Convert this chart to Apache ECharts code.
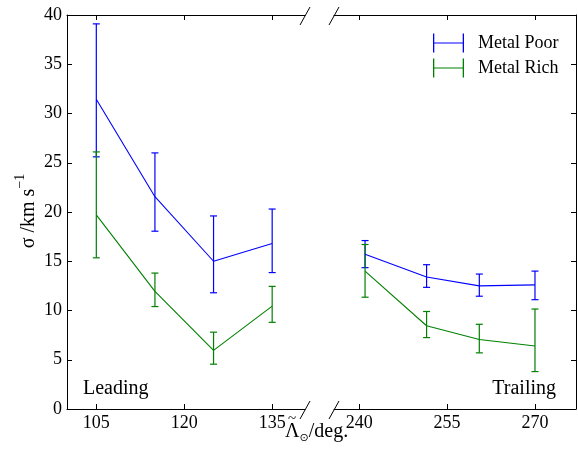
<!DOCTYPE html>
<html>
<head>
<meta charset="utf-8">
<script src="https://cdn.jsdelivr.net/npm/echarts@6/dist/echarts.min.js"></script>
<style>
  html, body { margin: 0; padding: 0; background: #fff; }
  #chart { width: 578px; height: 455px; }
</style>
</head>
<body>
<div id="chart"></div>
<script>
// Velocity dispersion along the stream, leading and trailing arms
const xLeading = [105, 115, 125, 135];
const poorLeading = [31.45, 21.55, 15.0, 16.8];
const poorLeadingLow = [25.6, 18.05, 11.8, 13.85];
const poorLeadingHigh = [39.1, 26.0, 19.6, 20.3];
const richLeading = [19.7, 11.95, 5.95, 10.45];
const richLeadingLow = [15.35, 10.4, 4.55, 8.8];
const richLeadingHigh = [26.1, 13.8, 7.8, 12.45];

const xTrailing = [241, 251.5, 260.5, 270];
const poorTrailing = [15.7, 13.4, 12.5, 12.6];
const poorTrailingLow = [14.35, 12.35, 11.45, 11.1];
const poorTrailingHigh = [17.1, 14.65, 13.7, 14.0];
const richTrailing = [14.0, 8.45, 7.05, 6.4];
const richTrailingLow = [11.35, 7.25, 5.7, 3.8];
const richTrailingHigh = [16.7, 9.9, 8.6, 10.15];

const xTicksLeading = [105, 120, 135];
const xTicksTrailing = [240, 255, 270];
const yMin = 0, yMax = 40, yStep = 5;

const BLUE = '#0000ff';
const GREEN = '#008000';
const FONT = '"Liberation Serif", "Times New Roman", serif';

const zip = (xs, ys) => xs.map((x, i) => [x, ys[i]]);
const zip3 = (xs, lo, hi) => xs.map((x, i) => [x, lo[i], hi[i]]);

// panel 0 = leading arm (x axes 0/1), panel 1 = trailing arm (x axes 2/3)
function errorBars(name, color, panel, data) {
  return {
    name, type: 'custom', xAxisIndex: panel * 2, yAxisIndex: panel,
    data, encode: { x: 0, y: [1, 2] }, z: 3,
    itemStyle: { color },
    renderItem(params, api) {
      const x = api.value(0);
      const lo = api.coord([x, api.value(1)]);
      const hi = api.coord([x, api.value(2)]);
      const hw = 3.5;
      const st = { stroke: color, lineWidth: 1.2 };
      return {
        type: 'group',
        children: [
          { type: 'line', shape: { x1: lo[0], y1: lo[1], x2: hi[0], y2: hi[1] }, style: st },
          { type: 'line', shape: { x1: hi[0] - hw, y1: hi[1], x2: hi[0] + hw, y2: hi[1] }, style: st },
          { type: 'line', shape: { x1: lo[0] - hw, y1: lo[1], x2: lo[0] + hw, y2: lo[1] }, style: st }
        ]
      };
    }
  };
}

function lineSeries(name, color, panel, data) {
  return {
    name, type: 'line', xAxisIndex: panel * 2, yAxisIndex: panel, data,
    showSymbol: false, symbol: 'none', z: 4,
    itemStyle: { color }, lineStyle: { color, width: 1.1 }
  };
}

const axisLine = { show: true, lineStyle: { color: '#000', width: 1 } };
const tickBase = { show: true, inside: true, length: 5, lineStyle: { color: '#000', width: 1 } };

function xAxisPair(grid, min, max, ticks) {
  return [
    {
      type: 'value', gridIndex: grid, position: 'bottom', min, max,
      axisLine, splitLine: { show: false },
      axisTick: Object.assign({ customValues: ticks }, tickBase),
      axisLabel: { customValues: ticks, color: '#000', fontFamily: FONT, fontSize: 18, margin: 5 }
    },
    {
      type: 'value', gridIndex: grid, position: 'top', min, max,
      axisLine, splitLine: { show: false },
      axisTick: Object.assign({ customValues: ticks }, tickBase),
      axisLabel: { show: false }
    }
  ];
}

const legendIcon = 'path://M0,0h1.3v19h-1.3z M0,8.9h31v1.2h-31z M29.7,0h1.3v19h-1.3z';

const option = {
  animation: false,
  backgroundColor: '#fff',
  grid: [
    { left: 67, top: 15, width: 238, height: 394 },
    { left: 334, top: 15, width: 242, height: 394 }
  ],
  xAxis: [
    ...xAxisPair(0, 100, 140.6, xTicksLeading),
    ...xAxisPair(1, 235.7, 277, xTicksTrailing)
  ],
  yAxis: [
    {
      type: 'value', gridIndex: 0, position: 'left', min: yMin, max: yMax, interval: yStep,
      axisLine, axisTick: tickBase, splitLine: { show: false },
      axisLabel: { color: '#000', fontFamily: FONT, fontSize: 18, margin: 5 }
    },
    {
      type: 'value', gridIndex: 1, position: 'right', min: yMin, max: yMax, interval: yStep,
      axisLine, axisTick: tickBase, splitLine: { show: false },
      axisLabel: { show: false }
    }
  ],
  legend: {
    orient: 'vertical', left: 428, top: 28.5,
    itemWidth: 31, itemHeight: 19, itemGap: 6,
    selectedMode: false,
    data: [
      { name: 'Metal Poor', icon: legendIcon },
      { name: 'Metal Rich', icon: legendIcon }
    ],
    textStyle: { color: '#000', fontFamily: FONT, fontSize: 18, padding: [0, 0, 0, 9] }
  },
  graphic: [
    // broken-axis markers
    ...[[305, 16], [305, 410], [334, 16], [334, 410]].map(([cx, cy]) => ({
      type: 'line', silent: true,
      shape: { x1: cx - 5, y1: cy + 9, x2: cx + 5, y2: cy - 9 },
      style: { stroke: '#000', lineWidth: 1 }
    })),
    {
      type: 'text', left: 83, top: 379,
      style: { text: 'Leading', font: '20px ' + FONT, fill: '#000' }
    },
    {
      type: 'text', right: 22, top: 379,
      style: { text: 'Trailing', font: '20px ' + FONT, fill: '#000' }
    },
    {
      type: 'text', x: 26, y: 211, rotation: Math.PI / 2,
      style: {
        text: '{b|σ /km s}{s|−1}', align: 'center', verticalAlign: 'middle',
        rich: {
          b: { fontFamily: FONT, fontSize: 20, fill: '#000', lineHeight: 25, verticalAlign: 'bottom' },
          s: { fontFamily: FONT, fontSize: 14, fill: '#000', lineHeight: 25, verticalAlign: 'top' }
        }
      }
    },
    {
      type: 'text', x: 285, y: 433,
      style: {
        text: '{b|Λ}{s|⊙}{b|/deg.}', align: 'left', verticalAlign: 'middle',
        rich: {
          b: { fontFamily: FONT, fontSize: 20, fill: '#000', lineHeight: 22, verticalAlign: 'top' },
          s: { fontFamily: '"DejaVu Sans", sans-serif', fontSize: 11, fill: '#000', lineHeight: 22, verticalAlign: 'bottom' }
        }
      }
    },
    {
      type: 'text', x: 292, y: 419,
      style: { text: '~', font: '15px ' + FONT, fill: '#000', align: 'center', verticalAlign: 'middle' }
    }
  ],
  series: [
    lineSeries('Metal Poor', BLUE, 0, zip(xLeading, poorLeading)),
    lineSeries('Metal Rich', GREEN, 0, zip(xLeading, richLeading)),
    lineSeries('Metal Poor', BLUE, 1, zip(xTrailing, poorTrailing)),
    lineSeries('Metal Rich', GREEN, 1, zip(xTrailing, richTrailing)),
    errorBars('Metal Poor', BLUE, 0, zip3(xLeading, poorLeadingLow, poorLeadingHigh)),
    errorBars('Metal Rich', GREEN, 0, zip3(xLeading, richLeadingLow, richLeadingHigh)),
    errorBars('Metal Poor', BLUE, 1, zip3(xTrailing, poorTrailingLow, poorTrailingHigh)),
    errorBars('Metal Rich', GREEN, 1, zip3(xTrailing, richTrailingLow, richTrailingHigh))
  ]
};

const chart = echarts.init(document.getElementById('chart'), null, { renderer: 'canvas' });
chart.setOption(option);
</script>
</body>
</html>
